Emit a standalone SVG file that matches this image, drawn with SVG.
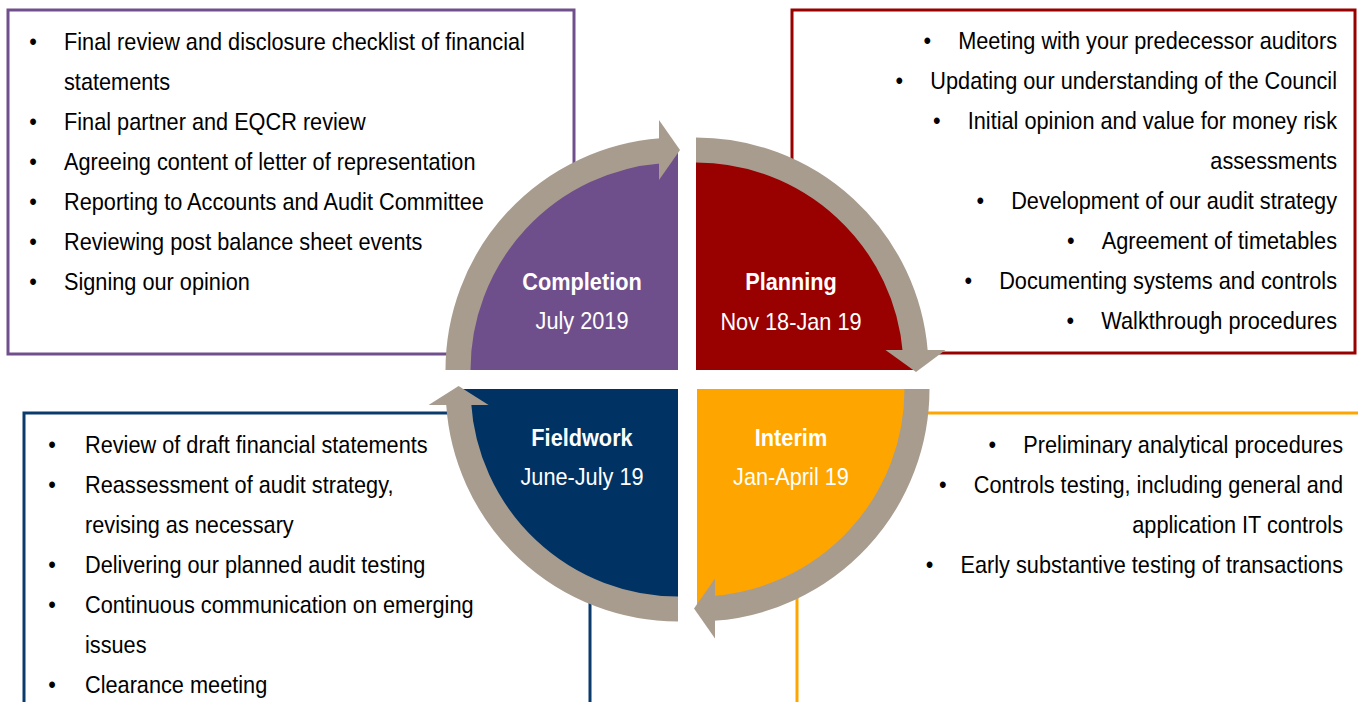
<svg xmlns="http://www.w3.org/2000/svg" width="1358" height="702" viewBox="0 0 1358 702">
  <style>
    .t { font-family: "Liberation Sans", Arial, sans-serif; font-size: 24px; fill: #000; }
    .r { text-anchor: end; }
    .b { text-anchor: middle; }
    .lbl { font-family: "Liberation Sans", Arial, sans-serif; font-size: 24px; fill: #fff; text-anchor: middle; }
    .lb { font-weight: bold; }
    .box { fill: none; stroke-width: 3; }
    .band { fill: none; stroke: #A89C8F; stroke-width: 25; }
    .head { fill: #A89C8F; }
  </style>
  <rect width="1358" height="702" fill="#fff"/>

  <g id="completion">
    <rect class="box" x="8" y="10" width="566" height="344" stroke="#70508C"/>
    <path d="M678,370 L460,370 A218,218 0 0 1 678,152 Z" fill="#6F4F8B"/>
    <text class="lbl lb" transform="translate(582,290) scale(0.905,1)">Completion</text>
    <text class="lbl" transform="translate(582,329) scale(0.905,1)">July 2019</text>
    <text class="t b" transform="translate(33,50) scale(0.905,1)">•</text><text class="t" transform="translate(64,50) scale(0.905,1)">Final review and disclosure checklist of financial</text>
    <text class="t" transform="translate(64,90) scale(0.905,1)">statements</text>
    <text class="t b" transform="translate(33,130) scale(0.905,1)">•</text><text class="t" transform="translate(64,130) scale(0.905,1)">Final partner and EQCR review</text>
    <text class="t b" transform="translate(33,170) scale(0.905,1)">•</text><text class="t" transform="translate(64,170) scale(0.905,1)">Agreeing content of letter of representation</text>
    <text class="t b" transform="translate(33,210) scale(0.905,1)">•</text><text class="t" transform="translate(64,210) scale(0.905,1)">Reporting to Accounts and Audit Committee</text>
    <text class="t b" transform="translate(33,250) scale(0.905,1)">•</text><text class="t" transform="translate(64,250) scale(0.905,1)">Reviewing post balance sheet events</text>
    <text class="t b" transform="translate(33,290) scale(0.905,1)">•</text><text class="t" transform="translate(64,290) scale(0.905,1)">Signing our opinion</text>
  </g>

  <g id="planning">
    <rect class="box" x="792" y="10" width="563" height="343" stroke="#990000"/>
    <path d="M696,370 L696,152 A218,218 0 0 1 914,370 Z" fill="#990000"/>
    <text class="lbl lb" transform="translate(791,290) scale(0.905,1)">Planning</text>
    <text class="lbl" transform="translate(791,330) scale(0.905,1)">Nov 18-Jan 19</text>
    <text class="t r" transform="translate(1337,49) scale(0.905,1)">•<tspan dx="30">Meeting with your predecessor auditors</tspan></text>
    <text class="t r" transform="translate(1337,89) scale(0.905,1)">•<tspan dx="30">Updating our understanding of the Council</tspan></text>
    <text class="t r" transform="translate(1337,129) scale(0.905,1)">•<tspan dx="30">Initial opinion and value for money risk</tspan></text>
    <text class="t r" transform="translate(1337,169) scale(0.905,1)">assessments</text>
    <text class="t r" transform="translate(1337,209) scale(0.905,1)">•<tspan dx="30">Development of our audit strategy</tspan></text>
    <text class="t r" transform="translate(1337,249) scale(0.905,1)">•<tspan dx="30">Agreement of timetables</tspan></text>
    <text class="t r" transform="translate(1337,289) scale(0.905,1)">•<tspan dx="30">Documenting systems and controls</tspan></text>
    <text class="t r" transform="translate(1337,329) scale(0.905,1)">•<tspan dx="30">Walkthrough procedures</tspan></text>
  </g>

  <g id="interim">
    <path class="box" d="M797,710 L797,413 L1362,413" stroke="#FFA500"/>
    <path d="M697,389 L915,389 A218,218 0 0 1 697,607 Z" fill="#FFA500"/>
    <text class="lbl lb" transform="translate(791,446) scale(0.905,1)">Interim</text>
    <text class="lbl" transform="translate(791,485) scale(0.905,1)">Jan-April 19</text>
    <text class="t r" transform="translate(1343,453) scale(0.905,1)">•<tspan dx="30">Preliminary analytical procedures</tspan></text>
    <text class="t r" transform="translate(1343,493) scale(0.905,1)">•<tspan dx="30">Controls testing, including general and</tspan></text>
    <text class="t r" transform="translate(1343,533) scale(0.905,1)">application IT controls</text>
    <text class="t r" transform="translate(1343,573) scale(0.905,1)">•<tspan dx="30">Early substantive testing of transactions</tspan></text>
  </g>

  <g id="fieldwork">
    <path class="box" d="M24,710 L24,413 L590,413 L590,710" stroke="#0B3A6C"/>
    <path d="M678,389 L678,607 A218,218 0 0 1 460,389 Z" fill="#003363"/>
    <text class="lbl lb" transform="translate(582,446) scale(0.905,1)">Fieldwork</text>
    <text class="lbl" transform="translate(582,485) scale(0.905,1)">June-July 19</text>
    <text class="t b" transform="translate(52,453) scale(0.905,1)">•</text><text class="t" transform="translate(85,453) scale(0.905,1)">Review of draft financial statements</text>
    <text class="t b" transform="translate(52,493) scale(0.905,1)">•</text><text class="t" transform="translate(85,493) scale(0.905,1)">Reassessment of audit strategy,</text>
    <text class="t" transform="translate(85,533) scale(0.905,1)">revising as necessary</text>
    <text class="t b" transform="translate(52,573) scale(0.905,1)">•</text><text class="t" transform="translate(85,573) scale(0.905,1)">Delivering our planned audit testing</text>
    <text class="t b" transform="translate(52,613) scale(0.905,1)">•</text><text class="t" transform="translate(85,613) scale(0.905,1)">Continuous communication on emerging</text>
    <text class="t" transform="translate(85,653) scale(0.905,1)">issues</text>
    <text class="t b" transform="translate(52,693) scale(0.905,1)">•</text><text class="t" transform="translate(85,693) scale(0.905,1)">Clearance meeting</text>
  </g>

  <g id="connectors">
    <path class="band" d="M458,370 A220,220 0 0 1 661,150.7"/>
    <polygon class="head" points="659,120 659,180 680,150"/>
    <path class="band" d="M696,150 A220,220 0 0 1 915.3,352"/>
    <polygon class="head" points="885.5,350 945.5,350 916,372"/>
    <path class="band" d="M917,389 A220,220 0 0 1 713,608.4"/>
    <polygon class="head" points="715,578.4 715,638.4 694,608.4"/>
    <path class="band" d="M678,609 A220,220 0 0 1 458.6,403"/>
    <polygon class="head" points="428.6,405 488.6,405 458.6,386"/>
  </g>
</svg>
